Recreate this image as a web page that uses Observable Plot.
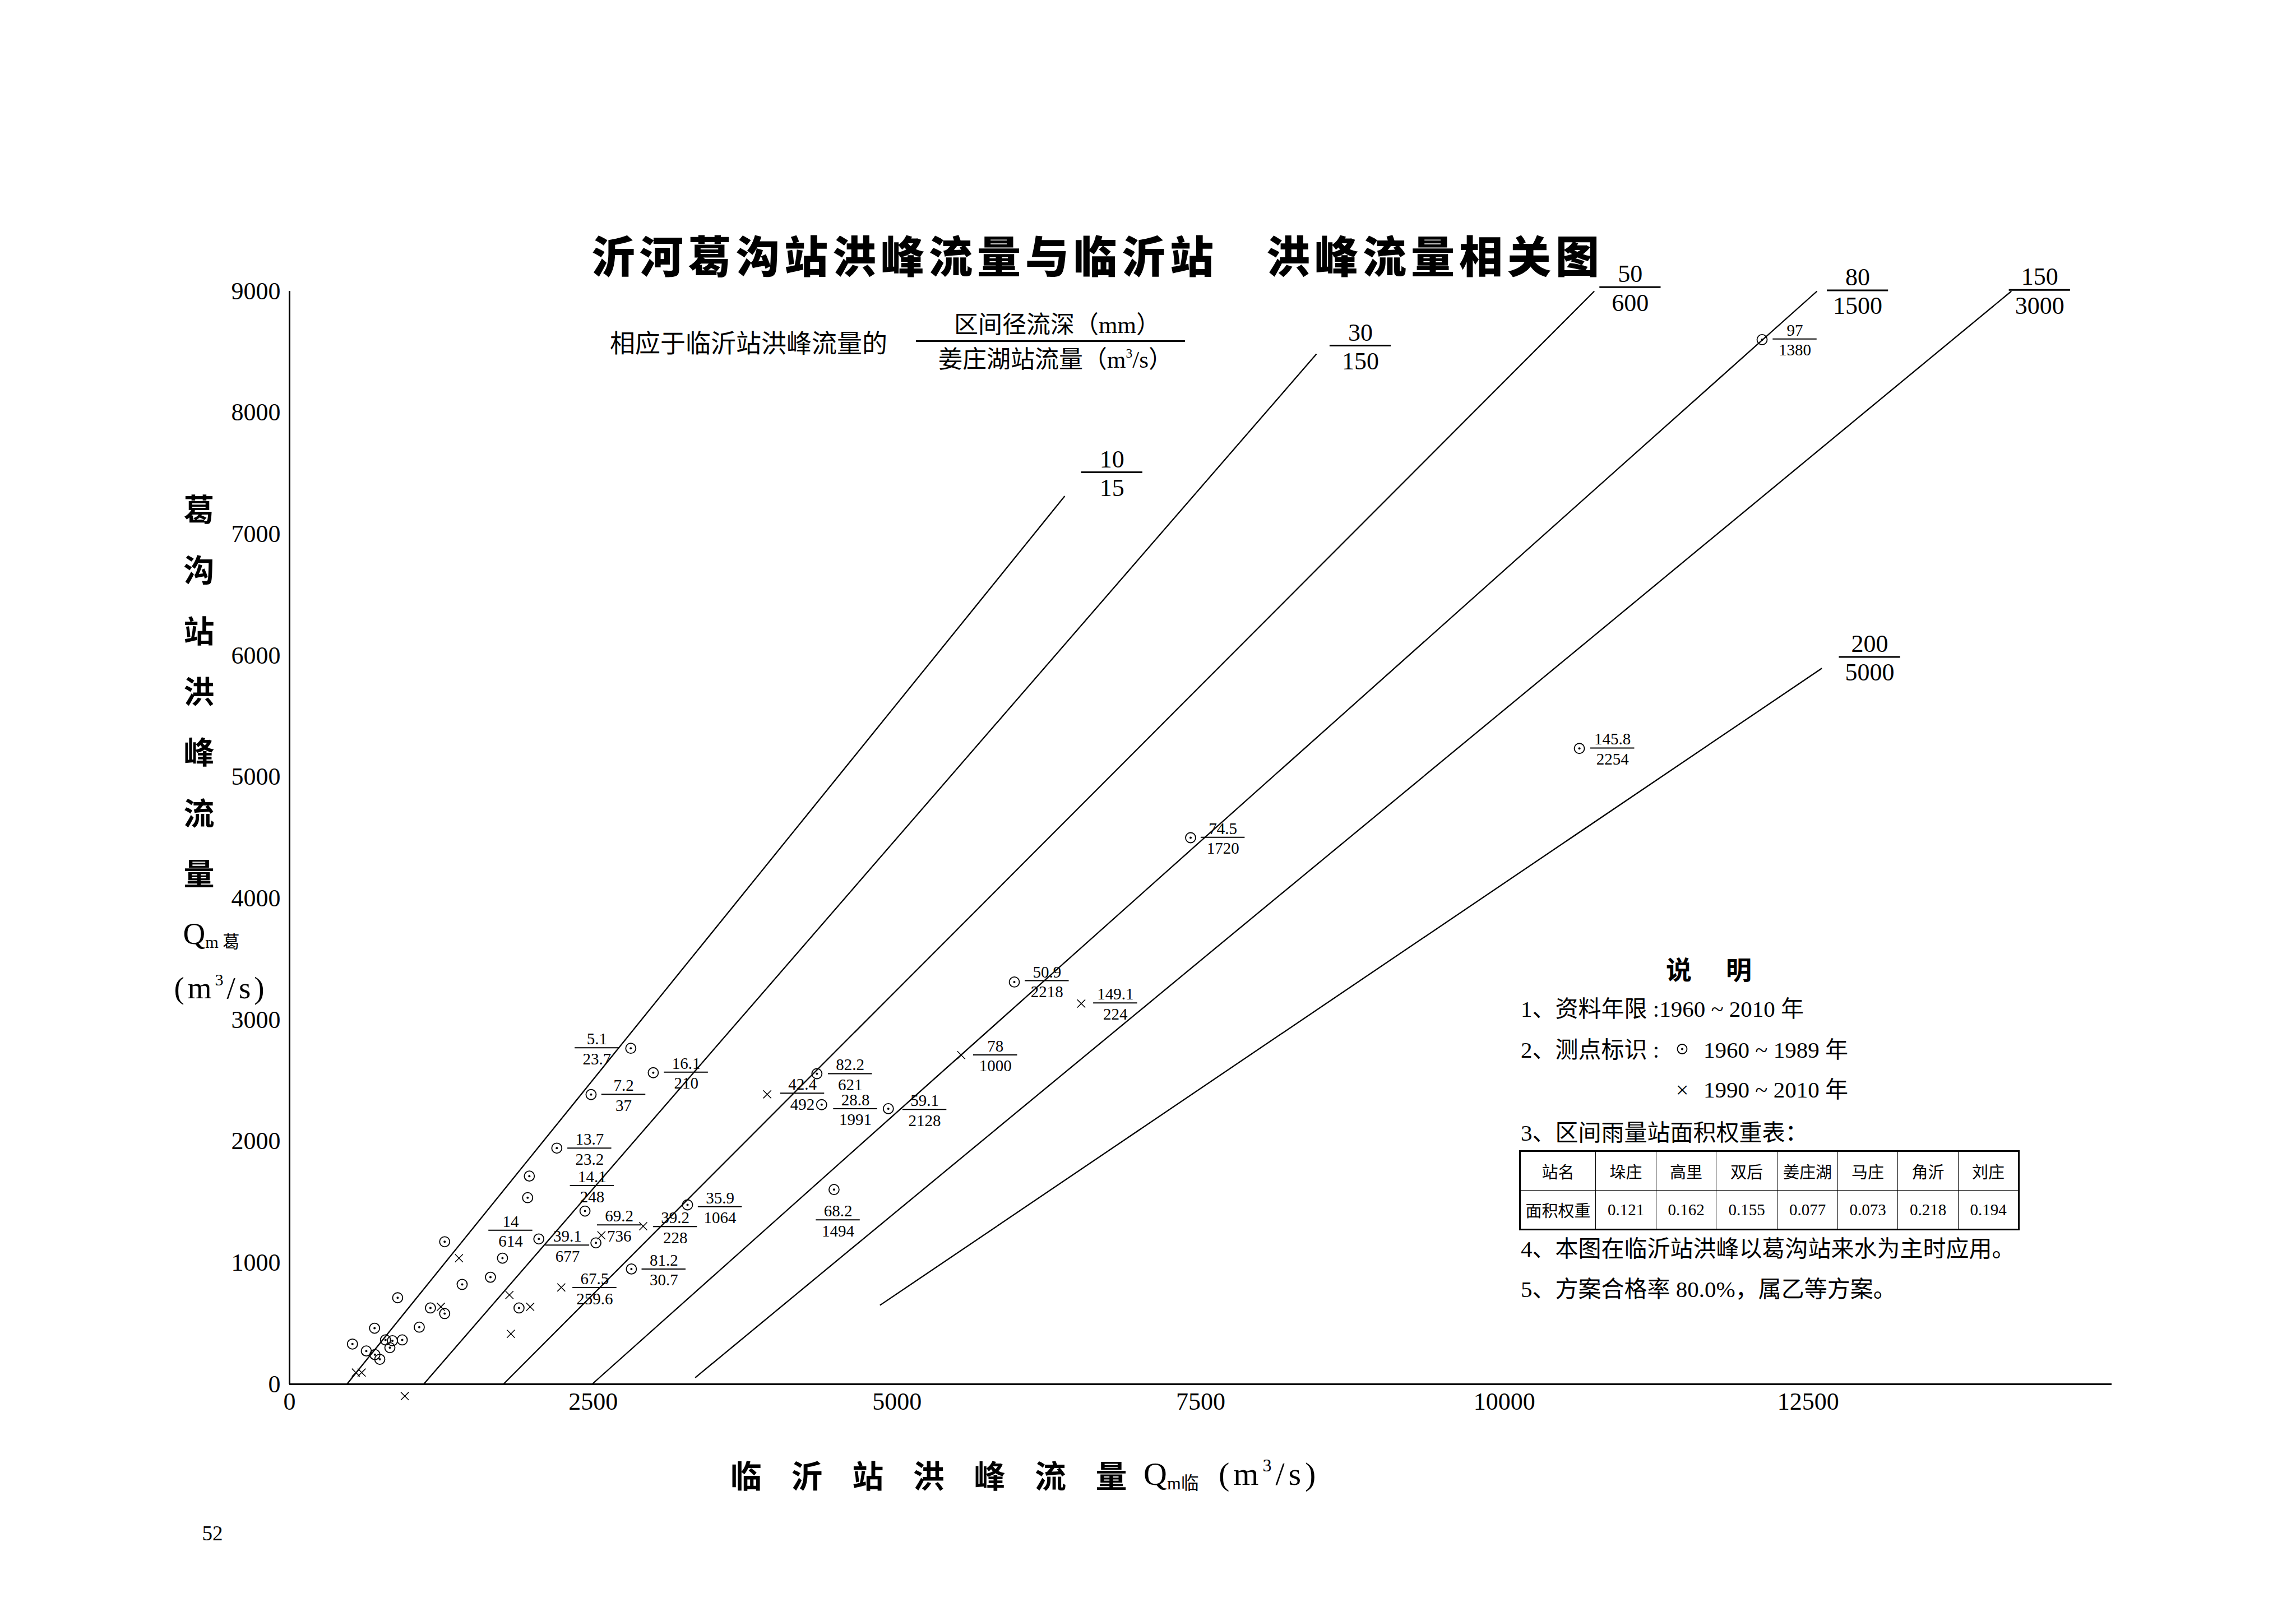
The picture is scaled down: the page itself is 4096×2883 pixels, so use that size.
<!DOCTYPE html>
<html>
<head>
<meta charset="utf-8">
<script src="https://cdn.jsdelivr.net/npm/d3@7"></script>
<script src="https://cdn.jsdelivr.net/npm/@observablehq/plot@0.6"></script>
<style>
html, body { margin: 0; padding: 0; background: #fff; }
#page { position: relative; width: 4096px; height: 2883px; overflow: hidden; background: #fff; color: #000; }
#page > svg { position: absolute; left: 0; top: 0; }
.t { position: absolute; white-space: nowrap; line-height: 1; color: #000;
     font-family: "Liberation Serif", "Noto Sans CJK SC", serif; }
.cjk { font-family: "Noto Sans CJK SC", sans-serif; }
.c { transform: translate(-50%, -50%); }
.l { transform: translateY(-50%); }
sup { font-size: 0.55em; vertical-align: 0.75em; line-height: 0; }
sub { font-size: 0.55em; vertical-align: -0.25em; line-height: 0; }
table.w { position: absolute; border-collapse: collapse; table-layout: fixed; border: 3px solid #000;
          font-family: "Liberation Serif", "Noto Sans CJK SC", serif; font-size: 29px; }
table.w td { border: 1.5px solid #000; text-align: center; vertical-align: middle; padding: 0; height: 68px; }
</style>
</head>
<body>
<div id="page"></div>
<script>
// ---------------- data ----------------
// axis ticks
const xTicks = [0, 2500, 5000, 7500, 10000, 12500];
const yTicks = [0, 1000, 2000, 3000, 4000, 5000, 6000, 7000, 8000, 9000];

// measured floods 1960–1989 (⊙): x = 临沂站洪峰流量, y = 葛沟站洪峰流量 (m³/s)
const oldX = [518, 632, 703, 743, 700, 790, 847, 826, 928, 890, 1068, 1160, 1277, 1277, 1421, 1654, 1753, 1889,
              1960, 1974, 2052, 2200, 2432, 2482, 2809, 2994, 2522, 2814, 3276, 4341, 4380, 4929, 4482, 5966,
              7417, 10617, 12121];
const oldY = [331, 274, 244, 205, 461, 365, 358, 301, 365, 712, 470, 628, 582, 1173, 822, 881, 1038, 628,
              1536, 1714, 1196, 1944, 1426, 2385, 2766, 2565, 1164, 949, 1477, 2557, 2302, 2269, 1603, 3312,
              4500, 5235, 8601];

// measured floods 1990–2010 (×)
const newX = [546, 594, 949, 1395, 1246, 1810, 1981, 1822, 2237, 2567, 2911, 3932, 5529, 6517];
const newY = [96, 96, -98, 1038, 637, 735, 637, 415, 797, 1226, 1301, 2387, 2710, 3134];

// point annotations: 区间径流深 (mm) / 姜庄湖站流量 (m³/s)
const labelNum = ["5.1", "16.1", "7.2", "13.7", "14.1", "14", "39.1", "69.2", "39.2", "35.9", "81.2", "67.5",
                  "42.4", "82.2", "28.8", "59.1", "78", "68.2", "50.9", "149.1", "74.5", "145.8", "97"];
const labelDen = ["23.7", "210", "37", "23.2", "248", "614", "677", "736", "228", "1064", "30.7", "259.6",
                  "492", "621", "1991", "2128", "1000", "1494", "2218", "224", "1720", "2254", "1380"];

// relation lines: 区间径流深 (mm) / 姜庄湖站流量 (m³/s)
const lineNum = [10, 30, 50, 80, 150, 200];
const lineDen = [15, 150, 600, 1500, 3000, 5000];
const lineFromX = [472, 1104, 1760, 2490, 3339, 4860];
const lineFromY = [0, 0, 0, 0, 54, 650];
const lineToX = [6381, 8453, 10740, 12573, 14173, 12613];
const lineToY = [7313, 8483, 9000, 9000, 9000, 5895];

// ---------------- annotation layout (where the fraction labels sit, in data units) ----------------
const labelAt = [[2530, 2770], [3265, 2570], [2750, 2387], [2470, 1944], [2491, 1636], [1820, 1268],
                 [2288, 1146], [2714, 1312], [3175, 1298], [3544, 1462], [3081, 949], [2512, 796],
                 [4222, 2397], [4615, 2557], [4658, 2269], [5228, 2263], [5810, 2712], [4515, 1353],
                 [6235, 3323], [6798, 3140], [7683, 4503], [10890, 5239], [12391, 8607]];
const lineLabelAt = [[6770, 7509], [8815, 8552], [11036, 9033], [12908, 9007], [14406, 9010], [13007, 5988]];

// ---------------- build ----------------
const oldPts = oldX.map((x, i) => ({x, y: oldY[i]}));
const newPts = newX.map((x, i) => ({x, y: newY[i]}));
const lines = lineNum.map((n, i) => ({
  num: String(n), den: String(lineDen[i]),
  x1: lineFromX[i], y1: lineFromY[i], x2: lineToX[i], y2: lineToY[i],
  lx: lineLabelAt[i][0], ly: lineLabelAt[i][1]
}));
const labels = labelNum.map((n, i) => ({num: n, den: labelDen[i], x: labelAt[i][0], y: labelAt[i][1]}));

const chart = Plot.plot({
  width: 4096,
  height: 2883,
  marginLeft: 516,
  marginRight: 329,
  marginTop: 519,
  marginBottom: 414,
  style: {background: "white", color: "black", fontFamily: "Liberation Serif", fontSize: "44px", overflow: "visible"},
  x: {domain: [0, 15000], ticks: xTicks, tickSize: 0, tickPadding: 14, tickFormat: d => String(d), label: null},
  y: {domain: [0, 9000], ticks: yTicks, tickSize: 0, tickPadding: 16, tickFormat: d => String(d), label: null},
  marks: [
    Plot.ruleY([0], {stroke: "black", strokeWidth: 3}),
    Plot.ruleX([0], {stroke: "black", strokeWidth: 3}),
    Plot.link(lines, {x1: "x1", y1: "y1", x2: "x2", y2: "y2", stroke: "black", strokeWidth: 2.3}),
    Plot.ruleY(lines, {y: "ly", x1: d => d.lx - 252, x2: d => d.lx + 252, stroke: "black", strokeWidth: 3}),
    Plot.text(lines, {x: "lx", y: "ly", text: "num", lineAnchor: "bottom", dy: -9, fontSize: 44, fill: "black"}),
    Plot.text(lines, {x: "lx", y: "ly", text: "den", lineAnchor: "top", dy: 11, fontSize: 44, fill: "black"}),
    Plot.dot(oldPts, {x: "x", y: "y", r: 9, stroke: "black", strokeWidth: 1.8, fill: "none"}),
    Plot.dot(oldPts, {x: "x", y: "y", r: 2, fill: "black", stroke: "none"}),
    Plot.dot(newPts, {x: "x", y: "y", symbol: "times", r: 6.5, stroke: "black", strokeWidth: 1.5, fill: "none"}),
    Plot.ruleY(labels, {y: "y", x1: d => d.x - 181, x2: d => d.x + 181, stroke: "black", strokeWidth: 2}),
    Plot.text(labels, {x: "x", y: "y", text: "num", lineAnchor: "bottom", dy: -6, fontSize: 29, fill: "black"}),
    Plot.text(labels, {x: "x", y: "y", text: "den", lineAnchor: "top", dy: 9, fontSize: 29, fill: "black"})
  ]
});

const page = document.getElementById("page");
page.appendChild(chart);

function addText(html, left, top, cls, style) {
  const d = document.createElement("div");
  d.className = "t " + (cls || "");
  d.innerHTML = html;
  d.style.left = left + "px";
  d.style.top = top + "px";
  Object.assign(d.style, style || {});
  page.appendChild(d);
  return d;
}

// title
addText("沂河葛沟站洪峰流量与临沂站　洪峰流量相关图", 1055, 453, "cjk l",
        {fontSize: "78px", fontWeight: "900", letterSpacing: "8px"});

// header fraction
addText("相应于临沂站洪峰流量的", 1088, 609, "cjk l", {fontSize: "45px"});
addText("区间径流深（mm）", 1886, 579, "c", {fontSize: "43px"});
addText("姜庄湖站流量（m<sup>3</sup>/s）", 1883, 641, "c", {fontSize: "43px"});
const hb = document.createElement("div");
Object.assign(hb.style, {position: "absolute", left: "1634px", top: "607px", width: "480px", height: "3px", background: "#000"});
page.appendChild(hb);

// y axis title
const yChars = ["葛", "沟", "站", "洪", "峰", "流", "量"];
yChars.forEach((ch, i) => addText(ch, 355, 905 + i * 108.3, "cjk c", {fontSize: "55px", fontWeight: "700"}));
addText("Q<sub>m 葛</sub>", 377, 1665, "c", {fontSize: "55px"});
addText("(m<sup>3</sup>/s)", 394, 1762, "c", {fontSize: "55px", letterSpacing: "6px"});

// x axis title
const xChars = ["临", "沂", "站", "洪", "峰", "流", "量"];
xChars.forEach((ch, i) => addText(ch, 1331 + i * 108.6, 2630, "cjk c", {fontSize: "56px", fontWeight: "700"}));
addText("Q<sub>m临</sub>", 2040, 2630, "l", {fontSize: "58px"});
addText("(m<sup>3</sup>/s)", 2174, 2630, "l", {fontSize: "58px", letterSpacing: "7px"});

// page number
addText("52", 379, 2735, "c", {fontSize: "37px"});

// legend
addText("说", 2995, 1727, "cjk c", {fontSize: "46px", fontWeight: "700"});
addText("明", 3102, 1727, "cjk c", {fontSize: "46px", fontWeight: "700"});
addText("1、资料年限 :1960 ~ 2010 年", 2713, 1800, "l", {fontSize: "41px"});
addText("2、测点标识 :", 2713, 1873, "l", {fontSize: "41px"});
addText('<svg width="22" height="22" viewBox="-11 -11 22 22"><circle r="8.5" fill="none" stroke="#000" stroke-width="1.8"/><circle r="2" fill="#000"/></svg>',
        3001, 1873, "c", {});
addText("1960 ~ 1989 年", 3039, 1873, "l", {fontSize: "41px"});
addText("×", 3001, 1944, "c", {fontSize: "41px"});
addText("1990 ~ 2010 年", 3039, 1944, "l", {fontSize: "41px"});
addText("3、区间雨量站面积权重表：", 2713, 2021, "l", {fontSize: "41px"});
addText("4、本图在临沂站洪峰以葛沟站来水为主时应用。", 2713, 2228, "l", {fontSize: "41px"});
addText("5、方案合格率 80.0%，属乙等方案。", 2713, 2300, "l", {fontSize: "41px"});

// weight table
const stations = ["站名", "垛庄", "高里", "双后", "姜庄湖", "马庄", "角沂", "刘庄"];
const weights = ["面积权重", "0.121", "0.162", "0.155", "0.077", "0.073", "0.218", "0.194"];
const colW = [135, 108, 107, 109, 108, 107, 108, 108];
const tbl = document.createElement("table");
tbl.className = "w";
tbl.style.left = "2710px";
tbl.style.top = "2052px";
tbl.style.width = colW.reduce((a, b) => a + b, 0) + "px";
const cg = document.createElement("colgroup");
colW.forEach(w => { const c = document.createElement("col"); c.style.width = w + "px"; cg.appendChild(c); });
tbl.appendChild(cg);
[stations, weights].forEach(row => {
  const tr = document.createElement("tr");
  row.forEach(v => { const td = document.createElement("td"); td.textContent = v; tr.appendChild(td); });
  tbl.appendChild(tr);
});
page.appendChild(tbl);
</script>
</body>
</html>
